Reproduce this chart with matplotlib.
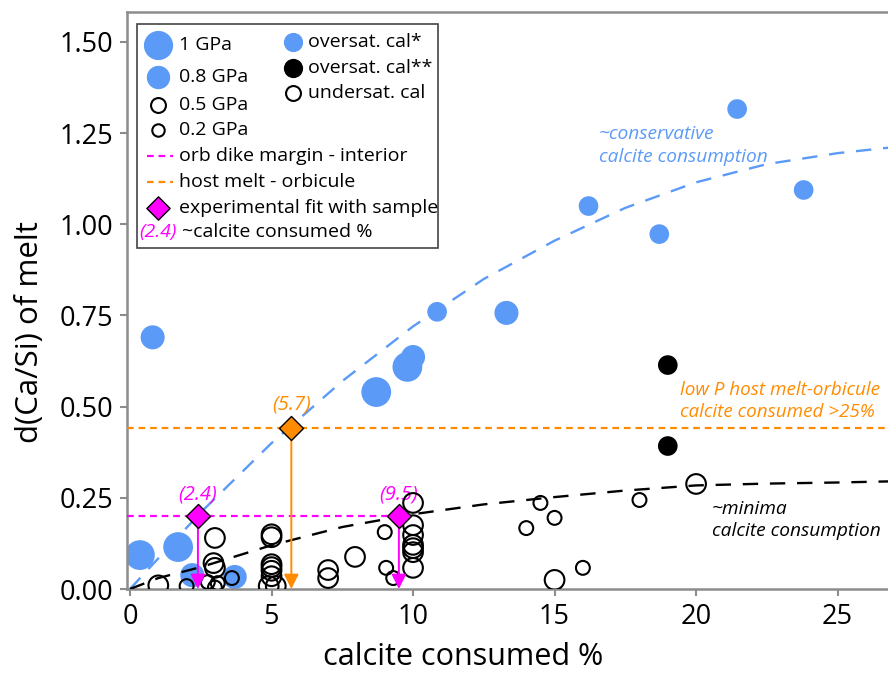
import matplotlib.pyplot as plt
from matplotlib.patches import Rectangle

plt.rcParams['font.family'] = ['Open Sans', 'DejaVu Sans']

BLUE = '#5b9af7'
ORANGE = '#ff8c00'
MAGENTA = '#ff00ff'
GREY = '#8c8c8c'

# marker area per pressure (GPa)
SIZES = {1.0: 460, 0.8: 300, 0.5: 200, 0.2: 100}

# oversaturated calcite (*)
over_x = [0.35, 0.8, 1.7, 2.2, 3.7, 8.7, 9.8, 10.0, 10.85, 13.3, 16.2, 18.7, 21.45, 23.8]
over_y = [0.093, 0.69, 0.115, 0.038, 0.033, 0.54, 0.609, 0.636, 0.76, 0.757, 1.05, 0.973, 1.316, 1.094]
over_p = [1.0, 0.8, 1.0, 0.8, 0.8, 1.0, 1.0, 0.8, 0.5, 0.8, 0.5, 0.5, 0.5, 0.5]

# oversaturated calcite (**)
over2_x = [19.0, 19.0]
over2_y = [0.614, 0.392]
over2_p = [0.5, 0.5]

# undersaturated calcite
under_x = [1.0, 2.0, 3.0, 2.95, 3.0, 2.75, 3.1, 3.0, 3.6,
           5.0, 5.0, 5.0, 5.0, 5.0, 5.0, 4.9, 5.15,
           7.0, 7.0, 7.95, 9.0, 9.05, 9.3,
           10.0, 10.0, 10.0, 10.0, 10.0, 10.0, 10.0,
           14.0, 14.5, 15.0, 15.0, 16.0, 18.0, 20.0]
under_y = [0.01, 0.008, 0.14, 0.071, 0.058, 0.019, 0.016, 0.004, 0.03,
           0.15, 0.142, 0.068, 0.06, 0.05, 0.035, 0.008, 0.008,
           0.052, 0.03, 0.088, 0.156, 0.058, 0.03,
           0.236, 0.175, 0.148, 0.121, 0.112, 0.101, 0.058,
           0.167, 0.236, 0.195, 0.025, 0.058, 0.244, 0.288]
under_p = [0.5, 0.2, 0.5, 0.5, 0.5, 0.2, 0.2, 0.2, 0.2,
           0.5, 0.5, 0.5, 0.5, 0.5, 0.5, 0.5, 0.5,
           0.5, 0.5, 0.5, 0.2, 0.2, 0.2,
           0.5, 0.5, 0.5, 0.5, 0.5, 0.5, 0.5,
           0.2, 0.2, 0.2, 0.5, 0.2, 0.2, 0.5]

# trend curves
cons_x = [0, 2.5, 5, 7.5, 10, 12.5, 15, 17.5, 20, 22.5, 25, 26.8]
cons_y = [0, 0.21, 0.40, 0.57, 0.72, 0.85, 0.955, 1.045, 1.115, 1.165, 1.195, 1.21]
min_x = [0, 1, 2.5, 5, 7.5, 10, 12.5, 15, 17.5, 20, 22.5, 25, 26.8]
min_y = [0, 0.03, 0.06, 0.12, 0.17, 0.205, 0.232, 0.252, 0.27, 0.284, 0.289, 0.292, 0.295]

# experimental fits with sample
fit_x = [2.4, 9.5]
fit_y = 0.20
host_x = 5.7
host_y = 0.441

XMIN, XMAX = -0.106, 26.78
YMIN, YMAX = 0.0, 1.582

fig = plt.figure(figsize=(8.88, 6.8), dpi=100)
ax = fig.add_axes([127 / 888, 91 / 680, 761 / 888, 577 / 680])

ax.scatter(over_x, over_y, s=[SIZES[p] for p in over_p], color=BLUE, edgecolors='none', zorder=2)
ax.scatter(over2_x, over2_y, s=[SIZES[p] for p in over2_p], color='black', edgecolors='none', zorder=2)
ax.scatter(under_x, under_y, s=[SIZES[p] for p in under_p], facecolors='none',
           edgecolors='black', linewidths=1.5, zorder=4)

ax.plot(cons_x, cons_y, color=BLUE, lw=1.7, dashes=(6.5, 5), zorder=3)
ax.plot(min_x, min_y, color='black', lw=1.7, dashes=(6.5, 5), zorder=3)

ax.plot([XMIN, max(fit_x)], [fit_y, fit_y], color=MAGENTA, lw=1.6, dashes=(3, 2.2), zorder=3)
ax.axhline(host_y, color=ORANGE, lw=1.6, dashes=(3, 2.2), zorder=3)

for x in fit_x:
    ax.annotate('', xy=(x, 0), xytext=(x, fit_y),
                arrowprops=dict(arrowstyle='-|>', color=MAGENTA, lw=1.4,
                                mutation_scale=22, shrinkA=0, shrinkB=0),
                zorder=5, annotation_clip=False)
    ax.text(x, fit_y + 0.06, '(%.1f)' % x, color=MAGENTA, style='italic',
            fontsize=14.5, ha='center', va='center')
ax.annotate('', xy=(host_x, 0), xytext=(host_x, host_y),
            arrowprops=dict(arrowstyle='-|>', color=ORANGE, lw=1.4,
                            mutation_scale=22, shrinkA=0, shrinkB=0),
            zorder=5, annotation_clip=False)
ax.text(host_x, host_y + 0.064, '(%.1f)' % host_x, color=ORANGE, style='italic',
        fontsize=14.5, ha='center', va='center')

ax.scatter(fit_x, [fit_y] * len(fit_x), marker='D', s=150, color=MAGENTA,
           edgecolors='black', linewidths=1, zorder=6)
ax.scatter([host_x], [host_y], marker='D', s=150, color=ORANGE,
           edgecolors='black', linewidths=1, zorder=6)

ax.text(16.56, 1.216, '~conservative\ncalcite consumption', color=BLUE, style='italic',
        fontsize=13.8, va='center', linespacing=1.3)
ax.text(19.42, 0.515, 'low P host melt-orbicule\ncalcite consumed >25%', color=ORANGE,
        style='italic', fontsize=13.6, va='center', linespacing=1.3)
ax.text(20.55, 0.19, '~minima\ncalcite consumption', color='black', style='italic',
        fontsize=13.8, va='center', linespacing=1.3)

ax.set_xlim(XMIN, XMAX)
ax.set_ylim(YMIN, YMAX)
ax.set_xticks([0, 5, 10, 15, 20, 25])
ax.set_yticks([0, 0.25, 0.5, 0.75, 1.0, 1.25, 1.5])
ax.set_yticklabels(['%.2f' % v for v in [0, 0.25, 0.5, 0.75, 1.0, 1.25, 1.5]])
ax.tick_params(direction='out', length=5, width=1.5, color=GREY, labelsize=19.5, pad=5)
for side in ['left', 'bottom', 'top']:
    ax.spines[side].set_color(GREY)
    ax.spines[side].set_linewidth(1.8)
ax.spines['right'].set_visible(False)

ax.set_xlabel('calcite consumed %', fontsize=22, va='center')
ax.xaxis.set_label_coords(0.4415, -0.118)
ax.set_ylabel('d(Ca/Si) of melt', fontsize=22.5, va='center')
ax.yaxis.set_label_coords(-0.1275, 0.445)

# hand-built legend (axes fraction coordinates)
tr = ax.transAxes
ax.add_patch(Rectangle((0.0131, 0.591), 0.3956, 0.388, transform=tr, facecolor='white',
                       edgecolor='#444444', lw=1.2, zorder=7))
hx, lx = 0.0407, 0.0683
rows = [0.9428, 0.8873, 0.8388, 0.7955, 0.7504, 0.7054, 0.6603, 0.6187]
ax.scatter([hx], [rows[0]], s=400, color=BLUE, transform=tr, zorder=8)
ax.scatter([hx], [rows[1]], s=250, color=BLUE, transform=tr, zorder=8)
ax.scatter([hx], [rows[2]], s=115, facecolors='white', edgecolors='black', lw=1.5, transform=tr, zorder=8)
ax.scatter([hx], [rows[3]], s=80, facecolors='white', edgecolors='black', lw=1.5, transform=tr, zorder=8)
ax.plot([0.0263, 0.0604], [rows[4]] * 2, color=MAGENTA, lw=1.6, dashes=(3, 2.2), transform=tr, zorder=8)
ax.plot([0.0263, 0.0604], [rows[5]] * 2, color=ORANGE, lw=1.6, dashes=(3, 2.2), transform=tr, zorder=8)
ax.scatter([hx], [rows[6]], marker='D', s=140, color=MAGENTA, edgecolors='black', lw=1,
           transform=tr, zorder=8)
ax.text(hx, rows[7], '(2.4)', color=MAGENTA, style='italic', fontsize=14,
        ha='center', va='center', transform=tr, zorder=8)
labels = ['1 GPa', '0.8 GPa', '0.5 GPa', '0.2 GPa', 'orb dike margin - interior',
          'host melt - orbicule', 'experimental fit with sample', '~calcite consumed %']
for y, lab in zip(rows, labels):
    ax.text(lx if lab[0] != '~' else lx + 0.004, y, lab, fontsize=14, va='center',
            transform=tr, zorder=8)

rx, rlx = 0.2181, 0.2378
rrows = [0.948, 0.903, 0.8596]
ax.scatter([rx], [rrows[0]], s=165, color=BLUE, transform=tr, zorder=8)
ax.scatter([rx], [rrows[1]], s=165, color='black', transform=tr, zorder=8)
ax.scatter([rx], [rrows[2]], s=115, facecolors='white', edgecolors='black', lw=1.5, transform=tr, zorder=8)
for y, lab in zip(rrows, ['oversat. cal*', 'oversat. cal**', 'undersat. cal']):
    ax.text(rlx, y, lab, fontsize=14, va='center', transform=tr, zorder=8)

fig.savefig('out.png', dpi=100)
